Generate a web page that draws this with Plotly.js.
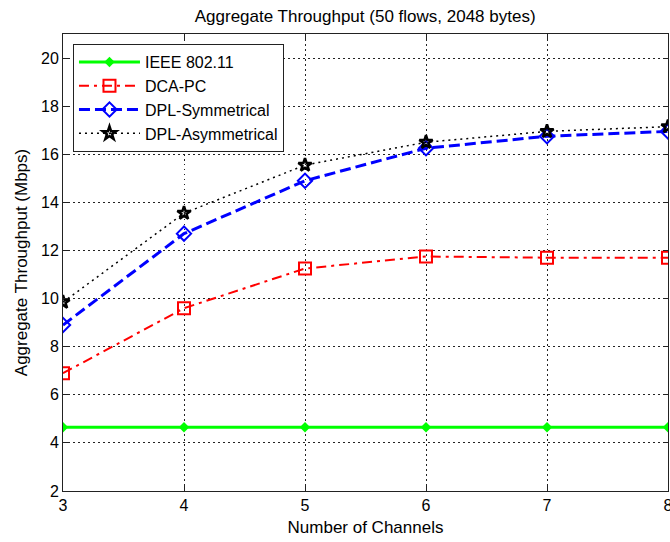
<!DOCTYPE html>
<html>
<head>
<meta charset="utf-8">
<script src="https://cdn.plot.ly/plotly-3.0.1.min.js"></script>
<style>html,body{margin:0;padding:0;background:#fff;}#chart{width:670px;height:542px;}</style>
</head>
<body>
<div id="chart"></div>
<script>
const channels = [3, 4, 5, 6, 7, 8];
const ieee80211 = [4.65, 4.65, 4.65, 4.65, 4.65, 4.65];
const dcaPc = [6.9, 9.6, 11.25, 11.75, 11.7, 11.7];
const dplSym = [8.9, 12.7, 14.9, 16.25, 16.75, 16.95];
const dplAsym = [9.85, 13.55, 15.55, 16.5, 16.95, 17.15];
const yTicks = [2, 4, 6, 8, 10, 12, 14, 16, 18, 20];

const FONT = 'Arial, "Liberation Sans", Helvetica, sans-serif';

const traces = [
  {x: channels, y: ieee80211, name: 'IEEE 802.11', mode: 'lines+markers',
   line: {color: '#00ff00', width: 3},
   marker: {symbol: 'diamond', size: 8, color: '#00ff00'}},
  {x: channels, y: dcaPc, name: 'DCA-PC', mode: 'lines+markers',
   line: {color: '#ff0000', width: 2, dash: '10px,5px,3px,5px'},
   marker: {symbol: 'square-open', size: 12, color: '#ff0000', line: {width: 2, color: '#ff0000'}}},
  {x: channels, y: dplSym, name: 'DPL-Symmetrical', mode: 'lines+markers',
   line: {color: '#0000ff', width: 3, dash: '11px,5px'},
   marker: {symbol: 'diamond-open', size: 11, color: '#0000ff', line: {width: 2, color: '#0000ff'}}},
  {x: channels, y: dplAsym, name: 'DPL-Asymmetrical', mode: 'lines+markers',
   line: {color: '#000000', width: 1.5, dash: '2px,4px'},
   marker: {symbol: 'star-open', size: 10, color: '#000000', line: {width: 2.5, color: '#000000'}}}
];

const axisCommon = {
  showline: true, linecolor: '#222', linewidth: 1, mirror: 'ticks',
  ticks: 'inside', ticklen: 5, tickcolor: '#222', tickwidth: 1,
  showgrid: true, gridcolor: '#222', gridwidth: 1, griddash: '1.5px,3.5px',
  zeroline: false, tickfont: {family: FONT, size: 16, color: '#000'}
};

const layout = {
  width: 670, height: 542,
  margin: {l: 63, r: 2, t: 34, b: 51},
  paper_bgcolor: '#fff', plot_bgcolor: '#fff',
  font: {family: FONT, color: '#000'},
  title: {text: 'Aggregate Throughput (50 flows, 2048 bytes)', font: {family: FONT, size: 17, color: '#000'},
          x: 0.545, xanchor: 'center', y: 0.971, yanchor: 'middle'},
  xaxis: Object.assign({}, axisCommon, {
    range: [3, 8], tickvals: channels, ticktext: channels.map(String), ticklabeloverflow: 'allow',
    title: {text: 'Number of Channels', font: {family: FONT, size: 17, color: '#000'}, standoff: 7}
  }),
  yaxis: Object.assign({}, axisCommon, {
    range: [2, 21], tickvals: yTicks, ticktext: yTicks.map(String),
    title: {text: 'Aggregate Throughput (Mbps)', font: {family: FONT, size: 17, color: '#000'}, standoff: 9}
  }),
  showlegend: true,
  legend: {x: 0.0165, y: 0.978, xanchor: 'left', yanchor: 'top',
           bgcolor: '#fff', bordercolor: '#222', borderwidth: 1,
           font: {family: FONT, size: 16, color: '#000'}, itemwidth: 61,
           tracegroupgap: 0}
};

Plotly.newPlot('chart', traces, layout, {displayModeBar: false, staticPlot: true});
</script>
</body>
</html>
